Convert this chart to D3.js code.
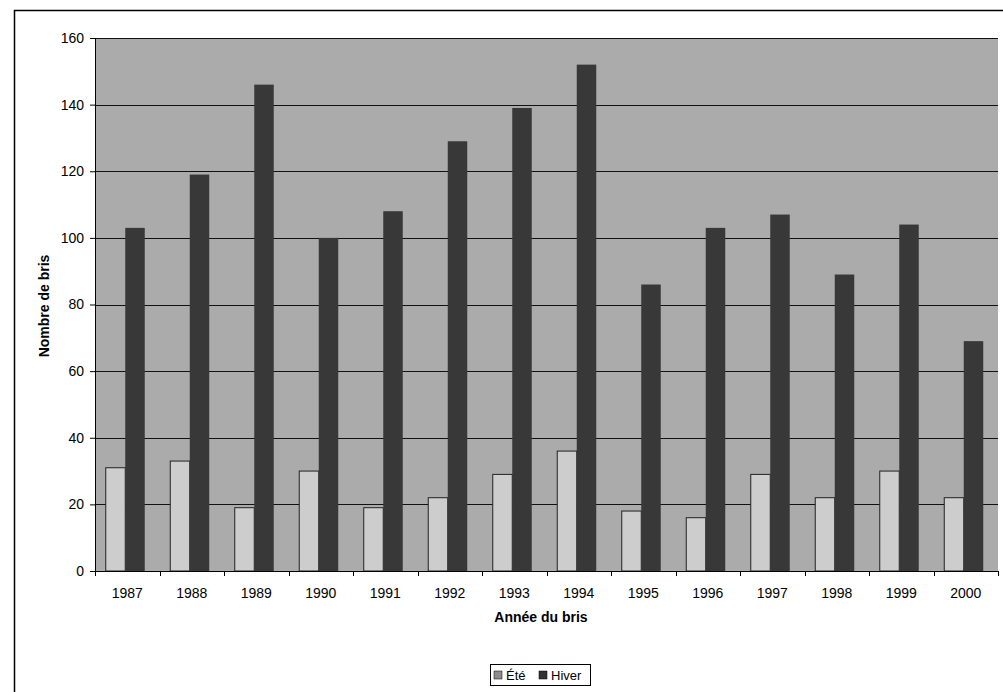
<!doctype html>
<html>
<head>
<meta charset="utf-8">
<style>
  body { margin: 0; background: #fff; }
  text { font-family: "Liberation Sans", Arial, sans-serif; }
</style>
<script src="https://d3js.org/d3.v7.min.js"></script>
</head>
<body>
<svg width="1003" height="692"></svg>
<script>
var years = ["1987","1988","1989","1990","1991","1992","1993","1994","1995","1996","1997","1998","1999","2000"];
var ete   = [31, 33, 19, 30, 19, 22, 29, 36, 18, 16, 29, 22, 30, 22];
var hiver = [103, 119, 146, 100, 108, 129, 139, 152, 86, 103, 107, 89, 104, 69];
var yTicks = [0, 20, 40, 60, 80, 100, 120, 140, 160];
var seriesNames = ["Été", "Hiver"];
var seriesColors = ["#cdcdcd", "#383838"];

var svg = d3.select("svg");
var plotL = 95, plotR = 998, plotT = 38, plotB = 571;
var pairW = 39;

// chart frame
svg.append("rect")
   .attr("x", 14.5).attr("y", 10.5)
   .attr("width", 1000).attr("height", 700)
   .attr("fill", "none").attr("stroke", "#000").attr("stroke-width", 1.5);

var x = d3.scaleBand().domain(years).range([plotL, plotR]);
var xs = d3.scaleBand().domain(seriesNames).range([0, pairW]);
var y = d3.scaleLinear().domain([0, 160]).range([plotB, plotT]);

// plot area
svg.append("rect")
   .attr("x", plotL).attr("y", plotT)
   .attr("width", plotR - plotL).attr("height", plotB - plotT)
   .attr("fill", "#ababab");

svg.append("g").selectAll("line")
   .data(yTicks.slice(1))
   .enter().append("line")
   .attr("x1", plotL).attr("x2", plotR)
   .attr("y1", function(d) { return Math.round(y(d)) + 0.5; })
   .attr("y2", function(d) { return Math.round(y(d)) + 0.5; })
   .attr("stroke", "#111").attr("stroke-width", 1);

var rows = years.map(function(yr, i) { return {year: yr, values: [ete[i], hiver[i]]}; });

var groups = svg.append("g").selectAll("g")
   .data(rows)
   .enter().append("g")
   .attr("transform", function(d) { return "translate(" + (x(d.year) + (x.bandwidth() - pairW) / 2 - 2) + ",0)"; });

groups.selectAll("rect")
   .data(function(d) { return d.values.map(function(v, j) { return {name: seriesNames[j], value: v, j: j}; }); })
   .enter().append("rect")
   .attr("x", function(d) { return xs(d.name); })
   .attr("y", function(d) { return y(d.value); })
   .attr("width", xs.bandwidth())
   .attr("height", function(d) { return plotB - y(d.value); })
   .attr("fill", function(d) { return seriesColors[d.j]; })
   .attr("stroke", function(d) { return d.j === 0 ? "#222" : "none"; })
   .attr("stroke-width", 1);

// axes
var yAxis = svg.append("g")
   .attr("transform", "translate(" + plotL + ",0)")
   .call(d3.axisLeft(y).tickValues(yTicks).tickSize(5).tickPadding(6));
yAxis.selectAll("text").attr("font-size", "14px").attr("fill", "#000");

var xAxis = svg.append("g")
   .attr("transform", "translate(0," + plotB + ")")
   .call(d3.axisBottom(x).tickSize(0).tickPadding(17));
xAxis.select(".domain").attr("stroke", "#000");
xAxis.selectAll("text").attr("font-size", "14px").attr("fill", "#000");

// ticks between categories
svg.append("g").selectAll("line")
   .data(years.concat(["end"]))
   .enter().append("line")
   .attr("x1", function(d, i) { return Math.round(plotL + i * x.step()) + 0.5; })
   .attr("x2", function(d, i) { return Math.round(plotL + i * x.step()) + 0.5; })
   .attr("y1", plotB).attr("y2", plotB + 5)
   .attr("stroke", "#000");

svg.append("text")
   .attr("x", 541).attr("y", 622)
   .attr("text-anchor", "middle")
   .attr("font-size", "14px").attr("font-weight", "bold")
   .text("Année du bris");

svg.append("text")
   .attr("transform", "translate(49,306) rotate(-90)")
   .attr("text-anchor", "middle")
   .attr("font-size", "14px").attr("font-weight", "bold")
   .text("Nombre de bris");

// legend
var lg = svg.append("g").attr("transform", "translate(490,664)");
lg.append("rect").attr("x", 0.5).attr("y", 0.5).attr("width", 100).attr("height", 21)
  .attr("fill", "#fff").attr("stroke", "#000");
var lx = [4, 49];
seriesNames.forEach(function(n, i) {
  lg.append("rect").attr("x", lx[i]).attr("y", 7).attr("width", 8).attr("height", 8)
    .attr("fill", i === 0 ? "#8c8c8c" : "#333").attr("stroke", "#000").attr("stroke-width", 0.5);
  lg.append("text").attr("x", lx[i] + 12).attr("y", 16)
    .attr("font-size", "13px").text(n);
});
</script>
</body>
</html>
